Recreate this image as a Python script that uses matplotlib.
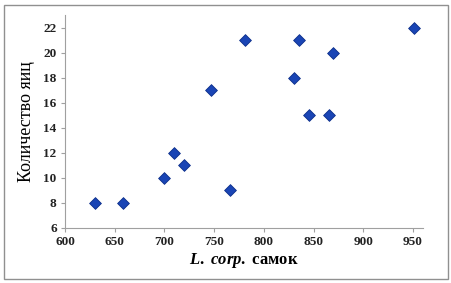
import matplotlib
matplotlib.use("Agg")
from matplotlib import pyplot as plt
from matplotlib.patches import Rectangle

females = [630, 658, 700, 710, 720, 747, 766, 781, 830, 835, 845, 865, 870, 951]
eggs = [8, 8, 10, 12, 11, 17, 9, 21, 18, 21, 15, 15, 20, 22]
x_ticks = [600, 650, 700, 750, 800, 850, 900, 950]
y_ticks = [6, 8, 10, 12, 14, 16, 18, 20, 22]

plt.rcParams['font.family'] = ['Liberation Serif', 'DejaVu Serif']
plt.rcParams['mathtext.fontset'] = 'custom'
plt.rcParams['mathtext.it'] = 'Liberation Serif:italic:bold'
plt.rcParams['mathtext.rm'] = 'Liberation Serif:bold'

fig = plt.figure(figsize=(4.52, 2.83), dpi=100)
ax = fig.add_axes([65 / 452, 55 / 283, 358 / 452, 213 / 283])

ax.scatter(females, eggs, marker='D', s=36, color='#1a45b5', edgecolors='#0d2f8a', linewidths=0.6, zorder=3)

ax.set_xlim(600, 960)
ax.set_ylim(6, 23)
ax.set_xticks(x_ticks)
ax.set_yticks(y_ticks)
ax.tick_params(labelsize=9.5, length=3, color='#a0a0a0', pad=3)
for lab in ax.get_xticklabels() + ax.get_yticklabels():
    lab.set_fontweight('bold')
    lab.set_color('#222222')
for side in ('top', 'right'):
    ax.spines[side].set_visible(False)
for side in ('left', 'bottom'):
    ax.spines[side].set_color('#a0a0a0')

ax.set_xlabel(r"$\it{L.\ corp.}$ самок", fontsize=12, fontweight='bold', labelpad=2)
ax.set_ylabel("Количество яиц", fontsize=13, labelpad=6)

fig.patches.append(Rectangle((4 / 452, 4 / 283), 444 / 452, 274 / 283, transform=fig.transFigure,
                             fill=False, edgecolor='#909090', linewidth=1.0))

fig.savefig("out.png", dpi=100)
